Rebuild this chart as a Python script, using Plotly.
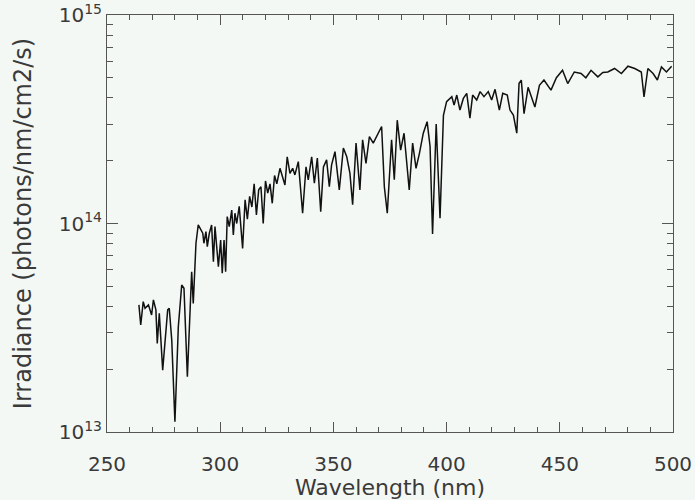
import plotly.graph_objects as go

wavelength = [
    264.1, 264.9, 266.0, 266.8, 268.3, 269.7, 270.5, 271.6, 272.2, 273.1,
    274.6, 276.8, 277.5, 278.6, 280.0, 281.5, 283.0, 284.0, 285.5, 287.0,
    287.4, 288.1, 288.9, 289.3, 290.3, 292.3, 292.8, 293.7, 294.3, 295.2,
    296.2, 297.0, 297.7, 299.2, 300.2, 300.9, 301.7, 302.4, 303.1, 304.0,
    305.1, 305.8, 306.5, 307.3, 308.4, 309.9, 311.0, 312.0, 313.0, 314.0,
    315.0, 316.0, 317.0, 318.0, 319.0, 320.0, 321.0, 322.0, 323.0, 324.0,
    325.0, 326.4, 328.6, 329.6, 330.8, 332.0, 333.0, 334.5, 336.4, 337.9,
    338.9, 340.4, 341.6, 342.9, 344.4, 345.6, 347.0, 348.2, 349.2, 350.7,
    352.6, 354.4, 355.9, 357.3, 358.5, 360.0, 361.7, 362.9, 364.4, 365.9,
    367.6, 369.8, 371.3, 372.5, 373.8, 375.7, 376.9, 378.2, 379.7, 381.2,
    383.5, 385.0, 386.5, 388.0, 389.7, 391.4, 392.7, 393.8, 395.4, 397.1,
    398.6, 400.0, 402.3, 403.3, 404.5, 405.9, 407.4, 408.9, 410.3, 411.5,
    413.3, 414.8, 416.5, 418.4, 419.9, 421.4, 423.3, 424.8, 426.8, 428.0,
    429.5, 431.0, 432.0, 433.0, 434.2, 436.0, 439.0, 441.0, 443.0, 446.1,
    448.5, 451.2, 453.5, 456.4, 459.4, 461.5, 463.8, 466.8, 469.0, 471.2,
    474.2, 477.2, 480.1, 483.1, 486.0, 487.2, 488.9, 491.2, 493.1, 494.9,
    497.1, 499.4,
]

irradiance = [
    4.07e13, 3.26e13, 4.22e13, 3.92e13, 4.07e13, 3.64e13, 4.30e13, 3.85e13, 2.66e13, 3.71e13,
    1.98e13, 3.85e13, 3.92e13, 2.76e13, 1.12e13, 3.20e13, 5.07e13, 4.89e13, 1.84e13, 5.36e13,
    5.87e13, 4.14e13, 6.21e13, 8.04e13, 9.84e13, 8.98e13, 8.04e13, 9.14e13, 7.75e13, 8.98e13,
    9.84e13, 6.56e13, 9.66e13, 6.21e13, 8.34e13, 5.77e13, 8.34e13, 5.87e13, 1.08e14, 9.66e13,
    1.16e14, 8.81e13, 1.12e14, 1.00e14, 1.21e14, 7.60e13, 1.30e14, 1.05e14, 1.35e14, 1.20e14,
    1.55e14, 1.10e14, 1.45e14, 1.50e14, 1.00e14, 1.60e14, 1.40e14, 1.55e14, 1.25e14, 1.70e14,
    1.55e14, 1.84e14, 1.53e14, 2.09e14, 1.74e14, 1.84e14, 1.71e14, 1.98e14, 1.12e14, 1.87e14,
    1.62e14, 2.09e14, 1.56e14, 2.06e14, 1.14e14, 1.87e14, 2.02e14, 1.50e14, 1.91e14, 2.21e14,
    1.45e14, 2.30e14, 2.09e14, 1.74e14, 1.23e14, 2.43e14, 1.45e14, 2.52e14, 1.94e14, 2.61e14,
    2.43e14, 2.71e14, 2.92e14, 1.50e14, 1.12e14, 2.52e14, 1.62e14, 3.13e14, 2.25e14, 2.71e14,
    1.45e14, 2.43e14, 1.84e14, 2.17e14, 2.71e14, 3.08e14, 2.34e14, 8.90e13, 3.00e14, 1.06e14,
    3.30e14, 3.84e14, 4.06e14, 3.70e14, 4.13e14, 3.50e14, 3.98e14, 4.21e14, 3.20e14, 4.13e14,
    3.91e14, 4.29e14, 4.06e14, 4.29e14, 3.91e14, 4.40e14, 3.50e14, 4.21e14, 4.13e14, 3.50e14,
    3.31e14, 2.71e14, 4.70e14, 4.87e14, 3.36e14, 4.50e14, 3.62e14, 4.60e14, 4.88e14, 4.36e14,
    5.00e14, 5.43e14, 4.69e14, 5.33e14, 5.24e14, 5.00e14, 5.43e14, 5.05e14, 5.30e14, 5.33e14,
    5.54e14, 5.24e14, 5.68e14, 5.54e14, 5.33e14, 4.05e14, 5.54e14, 5.24e14, 4.88e14, 5.64e14,
    5.33e14, 5.68e14,
]

x_ticks = [250, 300, 350, 400, 450, 500]
x_minor = [v for v in range(250, 501, 10) if v % 50 != 0]
y_ticks = [1e13, 1e14, 1e15]
y_ticktext = ["10<sup>13</sup>", "10<sup>14</sup>", "10<sup>15</sup>"]
y_minor = [m * 10 ** e for e in (13, 14) for m in range(2, 10)]

bg = "#f4f8f4"
axcol = "#555555"
tick_font = dict(family="DejaVu Sans", size=20, color="#3a3a3a")
xtitle_font = dict(family="DejaVu Sans", size=22, color="#3a3a3a")
ytitle_font = dict(family="DejaVu Sans", size=24, color="#3a3a3a")

fig = go.Figure(go.Scatter(
    x=wavelength, y=irradiance, mode="lines",
    line=dict(color="#111111", width=1.5),
))

fig.update_layout(
    width=695, height=500,
    margin=dict(l=107, r=22, t=15, b=68),
    paper_bgcolor=bg, plot_bgcolor=bg,
    showlegend=False,
    font=tick_font,
)
fig.update_xaxes(
    range=[250, 500], tickmode="array", tickvals=x_ticks,
    ticks="inside", ticklen=10, tickwidth=1, tickcolor=axcol,
    showline=True, linecolor=axcol, linewidth=1, mirror="ticks",
    showgrid=False, zeroline=False, automargin=False,
    minor=dict(tickmode="array", tickvals=x_minor, ticks="inside", ticklen=5,
               tickcolor=axcol, showgrid=False),
    ticklabelstandoff=14,
    title=dict(text="Wavelength (nm)", standoff=4, font=xtitle_font),
    tickfont=tick_font,
)
fig.update_yaxes(
    type="log", range=[13, 15], tickmode="array", tickvals=y_ticks, ticktext=y_ticktext,
    ticks="inside", ticklen=11, tickwidth=1, tickcolor=axcol,
    showline=True, linecolor=axcol, linewidth=1, mirror="ticks",
    showgrid=False, zeroline=False, automargin=False,
    minor=dict(tickmode="array", tickvals=y_minor, ticks="inside", ticklen=6,
               tickcolor=axcol, showgrid=False),
    title=dict(text="Irradiance (photons/nm/cm2/s)", standoff=20, font=ytitle_font),
    tickfont=tick_font,
)

fig.write_html("out.html")
